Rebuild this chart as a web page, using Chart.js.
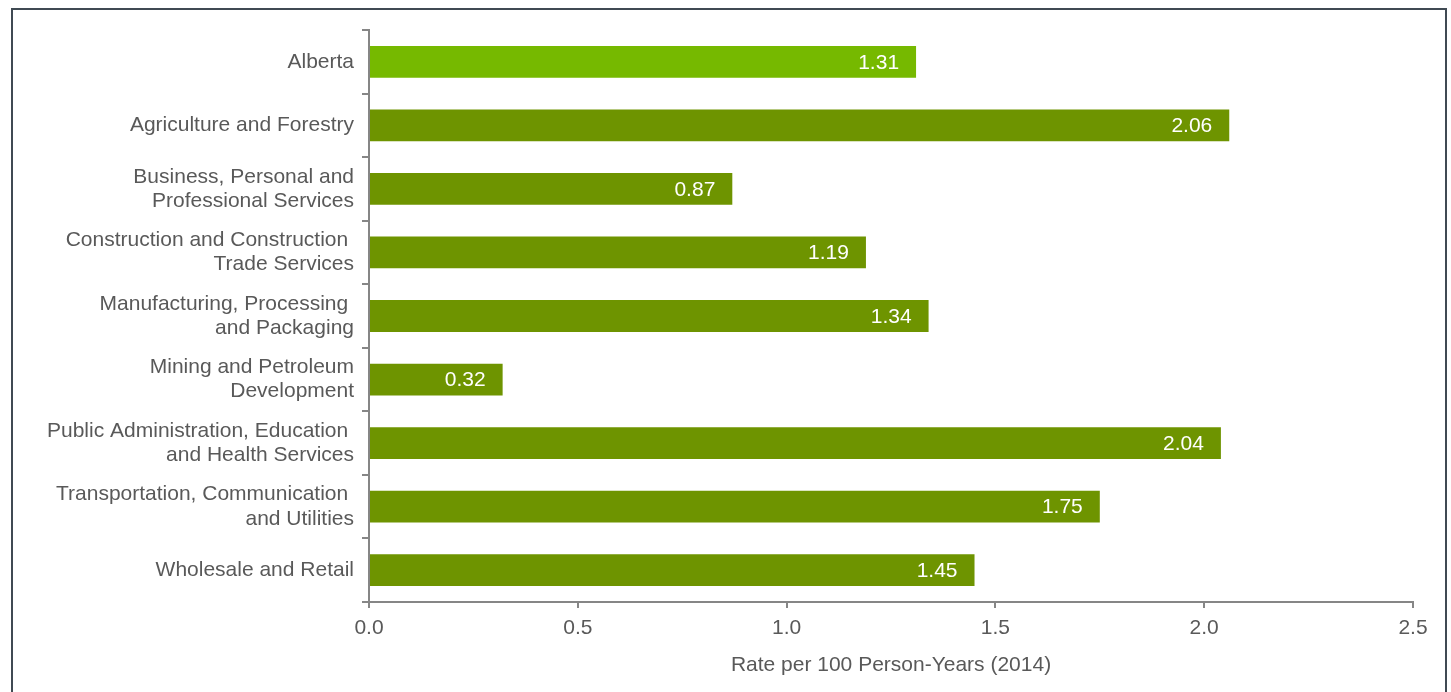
<!DOCTYPE html>
<html lang="en">
<head>
    <meta charset="UTF-8">
    <title>Rate per 100 Person-Years (2014)</title>
    <script src="https://cdn.jsdelivr.net/npm/chart.js"></script>
    <style>
        body { margin: 0; background: #fff; font-family: "Liberation Sans", Arial, sans-serif; }
        .frame { position: absolute; left: 11px; top: 8px; width: 1436px; height: 700px; border: 2px solid #404a53; box-sizing: border-box; }
        canvas { position: absolute; left: 0; top: 0; }
    </style>
</head>
<body>
    <div class="frame"></div>
    <canvas id="chart" width="1451" height="692"></canvas>

    <script>
        const categories = [
            "Alberta",
            "Agriculture and Forestry",
            ["Business, Personal and", "Professional Services"],
            ["Construction and Construction ", "Trade Services"],
            ["Manufacturing, Processing ", "and Packaging"],
            ["Mining and Petroleum", "Development"],
            ["Public Administration, Education ", "and Health Services"],
            ["Transportation, Communication ", "and Utilities"],
            "Wholesale and Retail"
        ];
        const rates = [1.31, 2.06, 0.87, 1.19, 1.34, 0.32, 2.04, 1.75, 1.45];
        const xTicks = [0, 0.5, 1.0, 1.5, 2.0, 2.5];

        const textColor = "#595959";
        const axisColor = "#868686";
        const fontFamily = "'Liberation Sans', Arial, sans-serif";

        // white value labels inside the end of each bar
        const valueLabels = {
            id: "valueLabels",
            afterDatasetsDraw(chart) {
                const ctx = chart.ctx;
                const meta = chart.getDatasetMeta(0);
                ctx.save();
                ctx.font = "21px " + fontFamily;
                ctx.fillStyle = "#ffffff";
                ctx.textAlign = "right";
                ctx.textBaseline = "middle";
                meta.data.forEach((bar, i) => {
                    ctx.fillText(rates[i].toFixed(2), bar.x - 17, bar.y + 1);
                });
                ctx.restore();
            }
        };

        new Chart(document.getElementById("chart"), {
            type: "bar",
            data: {
                labels: categories,
                datasets: [{
                    data: rates,
                    backgroundColor: c => categories[c.dataIndex] === "Alberta" ? "#76b900" : "#6e9400",
                    barPercentage: 0.5,
                    categoryPercentage: 1.0
                }]
            },
            options: {
                indexAxis: "y",
                responsive: false,
                animation: false,
                layout: { padding: { left: 20, top: 30, right: 38, bottom: 10 } },
                plugins: { legend: { display: false }, tooltip: { enabled: false } },
                scales: {
                    y: {
                        afterFit: s => { s.width = 349; },
                        grid: { offset: true, drawOnChartArea: false, drawTicks: true, tickLength: 7, color: axisColor, lineWidth: 2 },
                        border: { color: axisColor, width: 2 },
                        ticks: { color: textColor, padding: 8, font: { family: fontFamily, size: 21, lineHeight: 1.15 } }
                    },
                    x: {
                        min: 0,
                        max: 2.5,
                        afterFit: s => { s.height = 80; },
                        afterBuildTicks: s => { s.ticks = xTicks.map(v => ({ value: v })); },
                        grid: { drawOnChartArea: false, drawTicks: true, tickLength: 6, color: axisColor, lineWidth: 2 },
                        border: { color: axisColor, width: 2 },
                        ticks: {
                            color: textColor,
                            padding: 8,
                            font: { family: fontFamily, size: 21 },
                            callback: v => v.toFixed(1)
                        },
                        title: {
                            display: true,
                            text: "Rate per 100 Person-Years (2014)",
                            color: textColor,
                            padding: { top: 0 },
                            font: { family: fontFamily, size: 21 }
                        }
                    }
                }
            },
            plugins: [valueLabels]
        });
    </script>
</body>
</html>
